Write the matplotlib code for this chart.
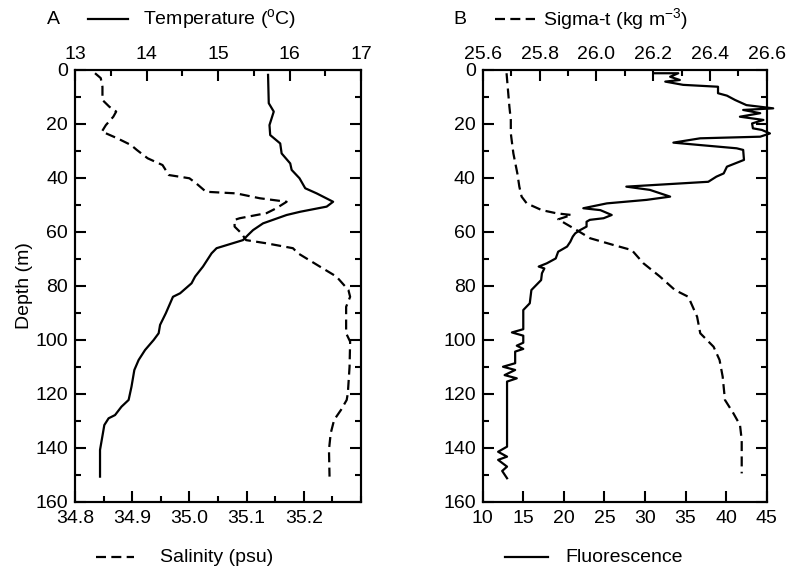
import matplotlib
matplotlib.use("Agg")
import matplotlib.pyplot as plt
from matplotlib.lines import Line2D
from matplotlib.ticker import MultipleLocator, FixedLocator

plt.rcParams['font.family'] = ['Liberation Sans', 'DejaVu Sans']

# ---- Panel A data ----
temp_depth = [1.8, 12.3, 15.4, 20.4, 24.1, 27.2, 30.9, 34.6, 37.0, 40.1, 43.8, 45.7, 48.8, 50.6,
              52.5, 53.7, 56.8, 59.3, 61.1, 63.0, 66.0, 67.9, 72.8, 76.5, 79.0, 82.7, 84.0, 90.1,
              94.4, 97.5, 100.0, 103.7, 107.4, 111.1, 117.3, 122.2, 124.7, 127.8, 129.0, 131.5,
              134.6, 140.7, 150.6]
temperature = [15.70, 15.71, 15.78, 15.72, 15.73, 15.87, 15.89, 16.01, 16.03, 16.14, 16.22, 16.38,
               16.61, 16.52, 16.15, 15.96, 15.63, 15.49, 15.42, 15.35, 14.98, 14.91, 14.79, 14.68,
               14.63, 14.47, 14.37, 14.27, 14.19, 14.17, 14.10, 13.98, 13.89, 13.83, 13.79, 13.75,
               13.65, 13.56, 13.47, 13.41, 13.39, 13.35, 13.35]

sal_depth = [1.2, 3.0, 6.2, 11.1, 13.6, 15.4, 17.3, 20.4, 22.8, 25.3, 27.8, 29.6, 32.7, 35.2, 38.9,
             40.1, 42.0, 45.1, 45.7, 47.5, 48.8, 51.2, 53.0, 54.9, 55.5, 58.0, 60.5, 63.0, 64.2,
             66.0, 67.9, 72.8, 76.5, 81.5, 84.0, 87.7, 97.5, 100.6, 109.9, 119.7, 122.2, 125.9,
             129.6, 134.6, 140.7, 150.6]
salinity = [34.835, 34.845, 34.848, 34.848, 34.860, 34.872, 34.867, 34.854, 34.847, 34.874, 34.898,
            34.908, 34.927, 34.953, 34.964, 35.000, 35.012, 35.029, 35.082, 35.123, 35.170, 35.152,
            35.135, 35.088, 35.079, 35.079, 35.091, 35.099, 35.135, 35.181, 35.190, 35.228, 35.257,
            35.278, 35.281, 35.274, 35.274, 35.281, 35.280, 35.277, 35.275, 35.265, 35.253, 35.247,
            35.244, 35.245]

# ---- Panel B data ----
sig_depth = [1.2, 6.2, 13.6, 18.5, 23.5, 30.9, 38.3, 43.2, 46.9, 49.4, 51.9, 53.1, 53.7, 55.3, 56.8,
             59.3, 62.3, 64.8, 66.7, 71.6, 76.5, 81.5, 84.0, 91.4, 97.5, 102.5, 107.4, 113.6, 122.2,
             127.2, 131.5, 137.0, 149.4]
sigma_t = [25.684, 25.688, 25.694, 25.699, 25.699, 25.708, 25.722, 25.729, 25.737, 25.755, 25.808,
           25.861, 25.913, 25.866, 25.890, 25.931, 25.978, 26.060, 26.125, 26.166, 26.224, 26.277,
           26.324, 26.355, 26.366, 26.413, 26.434, 26.445, 26.453, 26.483, 26.506, 26.512, 26.512]

fl_depth = [1.2, 1.2, 2.5, 3.7, 4.3, 5.5, 6.2, 8.6, 9.5, 11.1, 13.0, 14.2, 14.8, 16.0, 17.3, 18.5,
            19.8, 21.6, 22.2, 23.5, 24.7, 25.3, 26.9, 27.8, 29.0, 29.6, 33.3, 35.8, 38.3, 39.5,
            41.4, 43.2, 44.4, 45.7, 46.9, 48.1, 49.4, 51.2, 51.9, 53.7, 54.9, 55.5, 56.2, 58.0,
            59.3, 60.5, 61.7, 63.6, 65.4, 67.3, 69.8, 71.6, 72.8, 73.5, 75.3, 77.8, 81.5, 86.4,
            88.9, 89.5, 96.0, 97.2, 98.4, 101.0, 102.1, 103.3, 104.3, 108.6, 109.9, 111.1, 113.0,
            114.2, 115.4, 119.7, 139.5, 141.4, 143.2, 144.4, 146.9, 148.5, 151.2]
fluorescence = [31.2, 34.1, 33.1, 34.3, 32.5, 34.7, 39.0, 39.0, 40.1, 41.1, 42.5, 45.8, 42.1, 44.2,
                41.7, 44.6, 43.2, 43.3, 44.4, 45.4, 44.2, 36.8, 33.5, 36.8, 41.3, 42.1, 42.2, 40.1,
                39.7, 38.8, 37.8, 27.7, 30.6, 31.9, 33.1, 30.2, 25.3, 22.4, 24.5, 25.9, 24.9, 23.2,
                22.8, 22.8, 22.0, 21.4, 21.1, 20.8, 20.4, 19.3, 19.0, 17.9, 16.9, 17.6, 17.3, 17.2,
                16.0, 15.8, 15.0, 15.0, 15.0, 13.6, 15.0, 15.0, 14.2, 15.0, 14.0, 14.0, 12.5, 14.0,
                12.7, 14.2, 13.0, 13.0, 13.0, 11.9, 13.0, 11.9, 13.0, 12.4, 13.0]

depth_ticks = list(range(0, 161, 20))

W, H = 787, 572
fig = plt.figure(figsize=(W / 100, H / 100), dpi=100)

LW = 1.6
DASH = (4.5, 2.4)
FS = 14
MAJ, MIN = 8, 4.5

def ticks(ax, axis, pad):
    ax.tick_params(axis=axis, which='both', direction='in', width=1.5, labelsize=FS, pad=pad)
    ax.tick_params(axis=axis, which='major', length=MAJ)
    ax.tick_params(axis=axis, which='minor', length=MIN)

def style_axes(ax):
    ax.set_ylim(160, 0)
    ax.yaxis.set_major_locator(FixedLocator(depth_ticks))
    ax.yaxis.set_minor_locator(MultipleLocator(10))
    for s in ax.spines.values():
        s.set_linewidth(1.5)
    ticks(ax, 'x', 6)
    ticks(ax, 'y', 5)
    ax.tick_params(axis='y', which='both', left=True, right=True)

def px(x0, y0, x1, y1):
    return [x0 / W, 1 - y1 / H, (x1 - x0) / W, (y1 - y0) / H]

# Panel A
axA = fig.add_axes(px(75, 70, 361, 502))
style_axes(axA)
axA.plot(salinity, sal_depth, color='black', lw=LW, dashes=DASH)
axA.set_xlim(34.8, 35.3)
axA.xaxis.set_major_locator(FixedLocator([34.8, 34.9, 35.0, 35.1, 35.2]))
axA.xaxis.set_minor_locator(MultipleLocator(0.05))
axA.set_xticklabels(['34.8', '34.9', '35.0', '35.1', '35.2'])
axA.set_ylabel('Depth (m)', fontsize=FS, labelpad=2)

axAt = axA.twiny()
axAt.plot(temperature, temp_depth, color='black', lw=LW)
axAt.set_xlim(13, 17)
axAt.set_ylim(160, 0)
axAt.xaxis.set_major_locator(MultipleLocator(1))
axAt.xaxis.set_minor_locator(MultipleLocator(0.5))
ticks(axAt, 'x', 5)
for s in axAt.spines.values():
    s.set_linewidth(1.5)

# Panel B
axB = fig.add_axes(px(482.7, 70, 766.7, 502))
style_axes(axB)
axB.plot(fluorescence, fl_depth, color='black', lw=LW, clip_on=False)
axB.set_xlim(10, 45)
axB.xaxis.set_major_locator(MultipleLocator(5))

axBt = axB.twiny()
axBt.plot(sigma_t, sig_depth, color='black', lw=LW, dashes=DASH)
axBt.set_xlim(25.6, 26.6)
axBt.set_ylim(160, 0)
axBt.xaxis.set_major_locator(FixedLocator([25.6, 25.8, 26.0, 26.2, 26.4, 26.6]))
axBt.xaxis.set_minor_locator(MultipleLocator(0.1))
axBt.set_xticklabels(['25.6', '25.8', '26.0', '26.2', '26.4', '26.6'])
ticks(axBt, 'x', 5)
for s in axBt.spines.values():
    s.set_linewidth(1.5)

# Panel titles / legends
def fy(y):
    return 1 - y / H

fig.text(47 / W, fy(19), 'A', fontsize=FS, va='center', ha='left')
fig.add_artist(Line2D([88 / W, 128 / W], [fy(19), fy(19)], color='black', lw=LW))
fig.text(143 / W, fy(19), 'Temperature ($\\mathregular{^{o}}$C)', fontsize=FS, va='center', ha='left')

fig.text(453 / W, fy(19), 'B', fontsize=FS, va='center', ha='left')
fig.add_artist(Line2D([495 / W, 535 / W], [fy(19), fy(19)], color='black', lw=LW, dashes=DASH))
fig.text(543 / W, fy(19), 'Sigma-t (kg m$\\mathregular{^{-3}}$)', fontsize=FS, va='center', ha='left')

fig.add_artist(Line2D([96 / W, 134 / W], [fy(557), fy(557)], color='black', lw=LW, dashes=DASH))
fig.text(160 / W, fy(557), 'Salinity (psu)', fontsize=FS, va='center', ha='left')

fig.add_artist(Line2D([505 / W, 548 / W], [fy(557), fy(557)], color='black', lw=LW))
fig.text(565 / W, fy(557), 'Fluorescence', fontsize=FS, va='center', ha='left')

fig.savefig('out.png', dpi=100)
